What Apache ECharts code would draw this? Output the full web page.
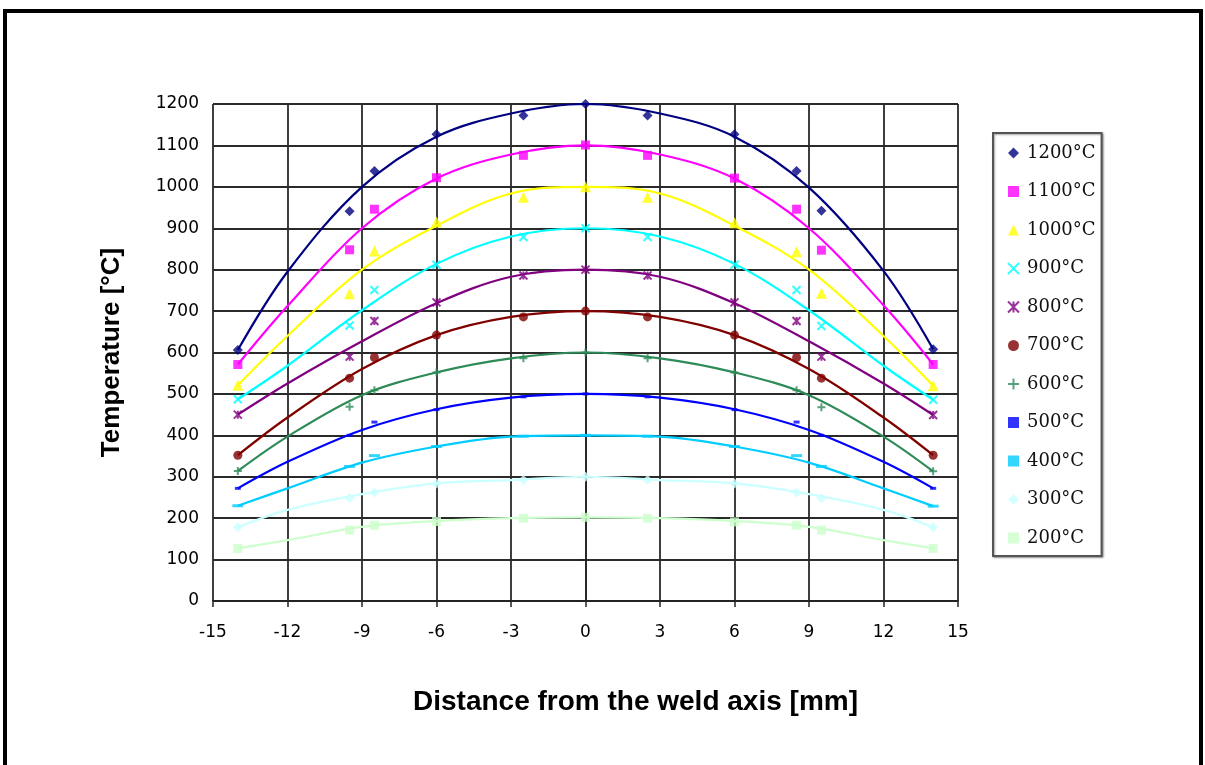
<!DOCTYPE html>
<html>
<head>
<meta charset="utf-8">
<title>Temperature vs distance from the weld axis</title>
<script src="https://cdn.jsdelivr.net/npm/echarts@6/dist/echarts.min.js"></script>
<style>
  html, body { margin: 0; padding: 0; background: #fff; }
  #chart { width: 1205px; height: 765px; }
</style>
</head>
<body>
<div id="chart"></div>
<script>
// measured points (markers)
const pointX = [-14, -9.5, -8.5, -6, -2.5, 0, 2.5, 6, 8.5, 9.5, 14];
const t1200 = [606, 941, 1038, 1127, 1172, 1200, 1172, 1127, 1038, 942, 608];
const t1100 = [571, 848, 946, 1022, 1076, 1101, 1076, 1021, 946, 847, 571];
const t1000 = [521, 742, 845, 915, 975, 1000, 975, 913, 843, 743, 520];
const t900 = [487, 665, 751, 812, 879, 900, 879, 812, 751, 664, 486];
const t800 = [450, 590, 676, 721, 786, 800, 786, 721, 676, 590, 449];
const t700 = [352, 538, 588, 642, 686, 700, 686, 642, 588, 538, 352];
const t600 = [314, 469, 509, 552, 586, 600, 586, 552, 509, 468, 313];
const t500 = [272, 400, 432, 462, 493, 500, 493, 462, 432, 400, 272];
const t400 = [230, 325, 351, 373, 398, 400, 398, 373, 351, 325, 229];
const t300 = [178, 248, 262, 284, 292, 300, 292, 284, 262, 248, 178];
const t200 = [127, 171, 183, 192, 200, 202, 200, 191, 183, 171, 127];

// trend curves at these distances
const fitX = [-14, -12, -9, -6, -3, 0, 3, 6, 9, 12, 14];
const fit1200 = [606, 795, 1000, 1121, 1177, 1200, 1177, 1121, 998, 797, 608];
const fit1100 = [571, 712, 900, 1020, 1078, 1100, 1078, 1020, 900, 714, 571];
const fit1000 = [521, 640, 800, 906, 984, 1000, 984, 906, 800, 640, 520];
const fit900 = [487, 568, 702, 814, 880, 900, 880, 814, 702, 568, 486];
const fit800 = [450, 525, 627, 719, 783, 800, 783, 719, 627, 525, 449];
const fit700 = [352, 443, 560, 642, 686, 700, 686, 642, 560, 443, 352];
const fit600 = [314, 397, 497, 552, 586, 600, 586, 552, 497, 397, 313];
const fit500 = [272, 336, 413, 463, 491, 500, 491, 463, 413, 336, 272];
const fit400 = [230, 272, 334, 373, 397, 400, 397, 373, 334, 272, 229];
const fit300 = [178, 220, 258, 284, 292, 300, 292, 284, 258, 220, 178];
const fit200 = [127, 147, 179, 193, 200, 202, 200, 193, 179, 147, 127];

const crossPath = 'path://M0,0L10,10M10,0L0,10';
const starPath = 'path://M0,0L10,10M10,0L0,10M5,0L5,10';
const plusPath = 'path://M5,0L5,10M0,5L10,5';

const curves = [
  { name: '1200°C', points: t1200, fit: fit1200, color: '#000080', symbol: 'diamond', size: 10 },
  { name: '1100°C', points: t1100, fit: fit1100, color: '#ff00ff', symbol: 'rect', size: 9 },
  { name: '1000°C', points: t1000, fit: fit1000, color: '#ffff00', symbol: 'triangle', size: 11 },
  { name: '900°C', points: t900, fit: fit900, color: '#00ffff', symbol: crossPath, size: 8, stroke: true },
  { name: '800°C', points: t800, fit: fit800, color: '#800080', symbol: starPath, size: 8, stroke: true },
  { name: '700°C', points: t700, fit: fit700, color: '#800000', symbol: 'circle', size: 9 },
  { name: '600°C', points: t600, fit: fit600, color: '#2e8b57', symbol: plusPath, size: 8, stroke: true },
  { name: '500°C', points: t500, fit: fit500, color: '#0000ff', symbol: 'rect', size: [6, 3] },
  { name: '400°C', points: t400, fit: fit400, color: '#00ccff', symbol: 'rect', size: [11, 3] },
  { name: '300°C', points: t300, fit: fit300, color: '#ccffff', symbol: 'diamond', size: 10 },
  { name: '200°C', points: t200, fit: fit200, color: '#ccffcc', symbol: 'rect', size: 9 }
];

const series = [];
curves.forEach(c => {
  // trend line
  series.push({
    name: 'fit ' + c.name,
    type: 'line',
    data: fitX.map((x, i) => [x, c.fit[i]]),
    smooth: 0.35,
    showSymbol: false,
    silent: true,
    lineStyle: { color: c.color, width: 2.2 },
    z: 3
  });
  // markers
  series.push({
    name: c.name,
    type: 'scatter',
    data: pointX.map((x, i) => [x, c.points[i]]),
    symbol: c.symbol,
    symbolSize: c.size,
    itemStyle: c.stroke
      ? { color: c.color, borderColor: c.color, borderWidth: 2 }
      : { color: c.color },
    z: 4
  });
});

const chart = echarts.init(document.getElementById('chart'));
chart.setOption({
  backgroundColor: '#ffffff',
  animation: false,
  graphic: [
    {
      type: 'rect',
      shape: { x: 5, y: 11, width: 1196, height: 770 },
      style: { fill: 'none', stroke: '#000', lineWidth: 4 },
      silent: true
    }
  ],
  grid: { left: 213, right: 247, top: 104, bottom: 164 },
  legend: {
    orient: 'vertical',
    left: 993,
    top: 133,
    data: curves.map(c => c.name),
    itemWidth: 11,
    itemHeight: 11,
    itemGap: 18.5,
    padding: [10, 6, 8, 14],
    borderColor: '#555',
    borderWidth: 2,
    shadowColor: 'rgba(0,0,0,0.35)',
    shadowBlur: 2,
    shadowOffsetX: 1,
    shadowOffsetY: 1,
    backgroundColor: '#fff',
    textStyle: {
      fontFamily: 'DejaVu Serif',
      fontSize: 18,
      color: '#111',
      lineHeight: 20,
      padding: [0, 0, 0, 3]
    }
  },
  xAxis: {
    type: 'value',
    min: -15,
    max: 15,
    interval: 3,
    name: 'Distance from the weld axis [mm]',
    nameLocation: 'middle',
    nameGap: 87,
    nameTextStyle: {
      fontFamily: 'Liberation Sans',
      fontWeight: 'bold',
      fontSize: 28,
      color: '#000',
      padding: [0, 0, 0, 100]
    },
    axisLine: { show: true, onZero: false, lineStyle: { color: '#222', width: 1.5 } },
    axisTick: { show: true, inside: false, length: 6, lineStyle: { color: '#222', width: 1.5 } },
    axisLabel: {
      margin: 23,
      fontFamily: 'DejaVu Sans',
      fontSize: 17,
      color: '#000'
    },
    splitLine: { show: true, lineStyle: { color: '#2a2a2a', width: 1.8 } }
  },
  yAxis: {
    type: 'value',
    min: 0,
    max: 1200,
    interval: 100,
    name: 'Temperature [°C]',
    nameLocation: 'middle',
    nameGap: 88,
    nameTextStyle: { fontFamily: 'Liberation Sans', fontWeight: 'bold', fontSize: 26, color: '#000' },
    axisLine: { show: true, lineStyle: { color: '#222', width: 1.5 } },
    axisTick: { show: true, length: 6, lineStyle: { color: '#222', width: 1.5 } },
    axisLabel: {
      margin: 14,
      fontFamily: 'DejaVu Sans',
      fontSize: 17,
      color: '#000',
      formatter: v => String(v)
    },
    splitLine: { show: true, lineStyle: { color: '#2a2a2a', width: 1.8 } }
  },
  series: series
});
</script>
</body>
</html>
